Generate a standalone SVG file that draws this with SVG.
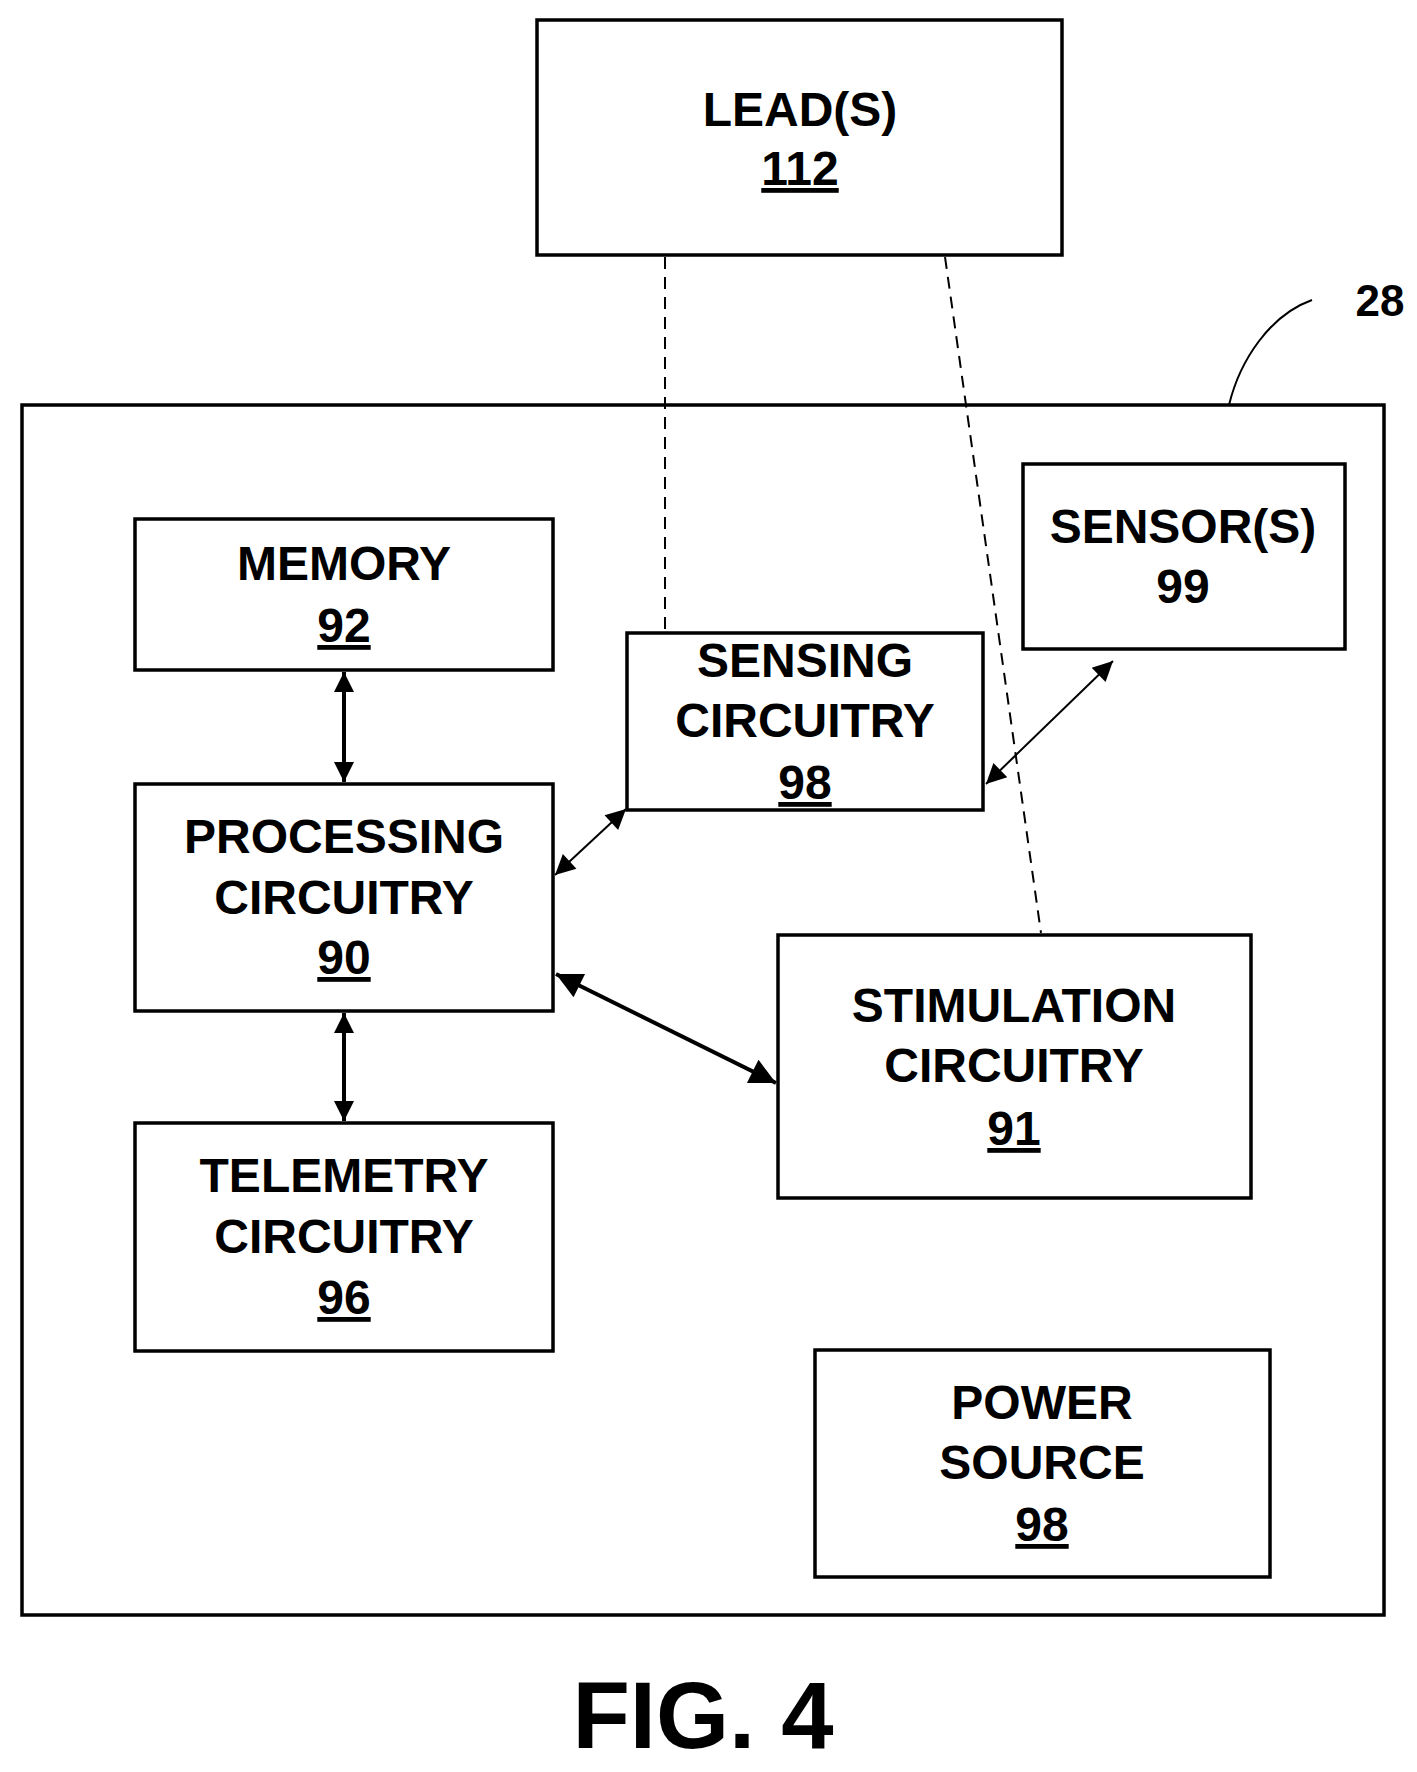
<svg xmlns="http://www.w3.org/2000/svg" width="1417" height="1772" viewBox="0 0 1417 1772">
<style>
rect{fill:#fff;stroke:#000;stroke-width:3.5}
text{font-family:"Liberation Sans",Arial,sans-serif;font-weight:bold;font-size:48px;text-anchor:middle;fill:#000}
.u{text-decoration:underline}
.d{stroke:#000;stroke-width:2;stroke-dasharray:12,8;fill:none}
.t{stroke:#000;stroke-width:2;fill:none}
.k{stroke:#000;stroke-width:4;fill:none}
</style>
<defs>
<marker id="aht" viewBox="0 0 10 10" refX="10" refY="5" markerWidth="26" markerHeight="20" markerUnits="userSpaceOnUse" orient="auto-start-reverse"><path d="M0,0L10,5L0,10z"/></marker>
<marker id="ahk" viewBox="0 0 10 10" refX="10" refY="5" markerWidth="36" markerHeight="26" markerUnits="userSpaceOnUse" orient="auto-start-reverse"><path d="M0,0L10,5L0,10z"/></marker>
</defs>
<g id="device28"><rect x="22" y="405" width="1362" height="1210"/></g>
<g id="lead"><rect x="537" y="20" width="525" height="235"/><text x="800" y="126">LEAD(S)</text><text x="800" y="185" class="u">112</text></g>
<g id="memory"><rect x="135" y="519" width="418" height="151"/><text x="344" y="580">MEMORY</text><text x="344" y="642" class="u">92</text></g>
<g id="sensing"><rect x="627" y="633" width="356" height="177"/><text x="805" y="677">SENSING</text><text x="805" y="737">CIRCUITRY</text><text x="805" y="799" class="u">98</text></g>
<g id="sensors"><rect x="1023" y="464" width="322" height="185"/><text x="1183" y="543">SENSOR(S)</text><text x="1183" y="603">99</text></g>
<g id="processing"><rect x="135" y="784" width="418" height="227"/><text x="344" y="853">PROCESSING</text><text x="344" y="914">CIRCUITRY</text><text x="344" y="974" class="u">90</text></g>
<g id="stimulation"><rect x="778" y="935" width="473" height="263"/><text x="1014" y="1022">STIMULATION</text><text x="1014" y="1082">CIRCUITRY</text><text x="1014" y="1145" class="u">91</text></g>
<g id="telemetry"><rect x="135" y="1123" width="418" height="228"/><text x="344" y="1192">TELEMETRY</text><text x="344" y="1253">CIRCUITRY</text><text x="344" y="1314" class="u">96</text></g>
<g id="power"><rect x="815" y="1350" width="455" height="227"/><text x="1042" y="1419">POWER</text><text x="1042" y="1479">SOURCE</text><text x="1042" y="1541" class="u">98</text></g>
<g id="connectors">
<line class="d" x1="665" y1="257" x2="665" y2="631"/>
<line class="d" x1="945" y1="257" x2="1041" y2="933"/>
<path class="t" d="M1229,405 C1240,360 1270,315 1312,300"/>
<line class="k" x1="344" y1="672" x2="344" y2="782" marker-start="url(#aht)" marker-end="url(#aht)"/>
<line class="k" x1="344" y1="1013" x2="344" y2="1121" marker-start="url(#aht)" marker-end="url(#aht)"/>
<line class="t" x1="555" y1="875" x2="626" y2="809" marker-start="url(#aht)" marker-end="url(#aht)"/>
<line class="t" x1="986" y1="784" x2="1113" y2="661" marker-start="url(#aht)" marker-end="url(#aht)"/>
<line class="k" x1="556" y1="974" x2="776" y2="1083" marker-start="url(#ahk)" marker-end="url(#ahk)"/>
</g>
<text x="1380" y="316" style="font-size:44px">28</text>
<text x="703" y="1748" style="font-size:94px">FIG. 4</text>
</svg>
